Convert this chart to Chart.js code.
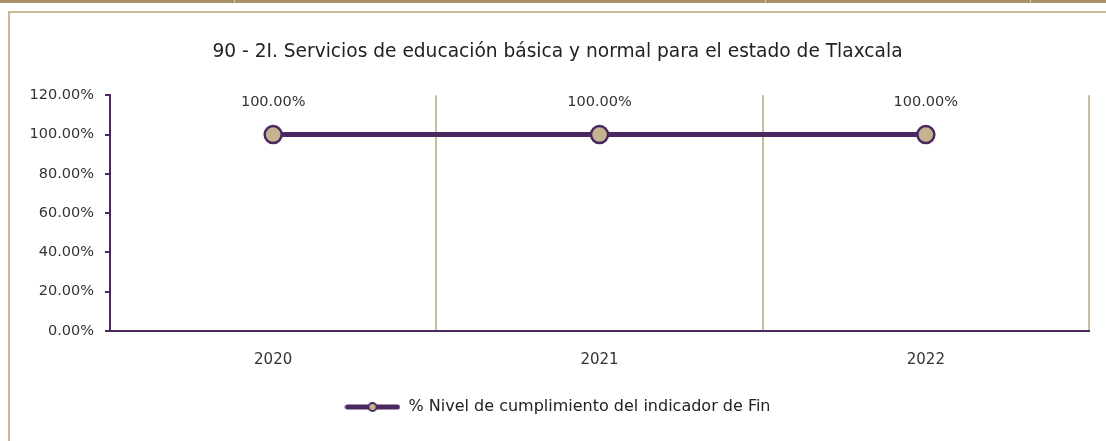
<!DOCTYPE html>
<html>
<head>
<meta charset="utf-8">
<script src="https://cdn.jsdelivr.net/npm/chart.js@4/dist/chart.umd.min.js"></script>
<style>
  body { margin: 0; background: #fff; width: 1106px; height: 441px; overflow: hidden; position: relative; }
  .strip { position: absolute; left: 0; top: 0; width: 1106px; height: 3px; background: #a8916b; }
  .strip span { position: absolute; top: 0; width: 1px; height: 3px; background: #d8cbb0; }
  .frame { position: absolute; left: 8px; top: 11px; right: 0; bottom: 0;
           border-left: 2px solid #c9ba95; border-top: 2px solid #c9ba95; }
  #chart { display: block; }
</style>
</head>
<body>
<div class="strip"><span style="left:234px"></span><span style="left:765px"></span><span style="left:1030px"></span></div>
<div class="frame">
  <canvas id="chart" width="1096" height="428"></canvas>
</div>
<script>
// data
const years = ['2020', '2021', '2022'];
const cumplimiento = [100, 100, 100];
const yTicks = [0, 20, 40, 60, 80, 100, 120];

const purple = '#4a2960';
const tan = '#c3b48f';
const gridTan = '#c8bc9c';
const font = "'DejaVu Sans', sans-serif";

// legend icon: thick line with a small marker in the middle
function legendIcon() {
    const c = document.createElement('canvas');
    c.width = 56; c.height = 12;
    const g = c.getContext('2d');
    g.strokeStyle = purple; g.lineWidth = 5; g.lineCap = 'round';
    g.beginPath(); g.moveTo(3, 6); g.lineTo(53, 6); g.stroke();
    g.beginPath(); g.arc(28, 6, 4, 0, Math.PI * 2);
    g.fillStyle = tan; g.fill();
    g.lineWidth = 1.8; g.strokeStyle = purple; g.stroke();
    return c;
}

// value labels above each point
const valueLabels = {
    id: 'valueLabels',
    afterDatasetsDraw(chart) {
        const ctx = chart.ctx;
        const meta = chart.getDatasetMeta(0);
        ctx.save();
        ctx.font = '14.5px ' + font;
        ctx.fillStyle = '#333';
        ctx.textAlign = 'center';
        ctx.textBaseline = 'middle';
        meta.data.forEach((pt, i) => {
            ctx.fillText(cumplimiento[i].toFixed(2) + '%', pt.x, pt.y - 32);
        });
        ctx.restore();
    }
};

new Chart(document.getElementById('chart'), {
    type: 'line',
    data: {
        labels: years,
        datasets: [{
            label: '% Nivel de cumplimiento del indicador de Fin',
            data: cumplimiento,
            borderColor: purple,
            borderWidth: 5,
            backgroundColor: tan,
            pointBackgroundColor: tan,
            pointBorderColor: purple,
            pointBorderWidth: 2.5,
            pointRadius: 8.5,
            tension: 0
        }]
    },
    options: {
        responsive: false,
        animation: false,
        layout: { padding: { left: 16, right: 17, top: 0, bottom: 16 } },
        plugins: {
            title: {
                display: true,
                text: '90 - 2I. Servicios de educación básica y normal para el estado de Tlaxcala',
                color: '#222',
                font: { family: font, size: 18.6, weight: 'normal' },
                padding: { top: 28, bottom: 32 }
            },
            legend: {
                position: 'bottom',
                labels: {
                    usePointStyle: true,
                    pointStyleWidth: 56,
                    color: '#222',
                    font: { family: font, size: 16 },
                    padding: 10,
                    generateLabels(chart) {
                        return [{
                            text: chart.data.datasets[0].label,
                            pointStyle: legendIcon(),
                            fontColor: '#222',
                            datasetIndex: 0
                        }];
                    }
                }
            },
            tooltip: { enabled: false }
        },
        scales: {
            x: {
                offset: true,
                border: { color: purple, width: 2 },
                grid: { offset: true, color: gridTan, lineWidth: 2, drawTicks: false },
                ticks: { color: '#333', font: { family: font, size: 15 }, padding: 20 }
            },
            y: {
                min: 0,
                max: 120,
                afterFit(s) { s.width = 84; },
                afterBuildTicks(s) { s.ticks = yTicks.map(v => ({ value: v })); },
                border: { color: purple, width: 2 },
                grid: { drawOnChartArea: false, drawTicks: true, tickLength: 5, color: purple, lineWidth: 2 },
                ticks: {
                    color: '#333',
                    font: { family: font, size: 14.5 },
                    padding: 11,
                    callback: v => v.toFixed(2) + '%'
                }
            }
        }
    },
    plugins: [valueLabels]
});
</script>
</body>
</html>
